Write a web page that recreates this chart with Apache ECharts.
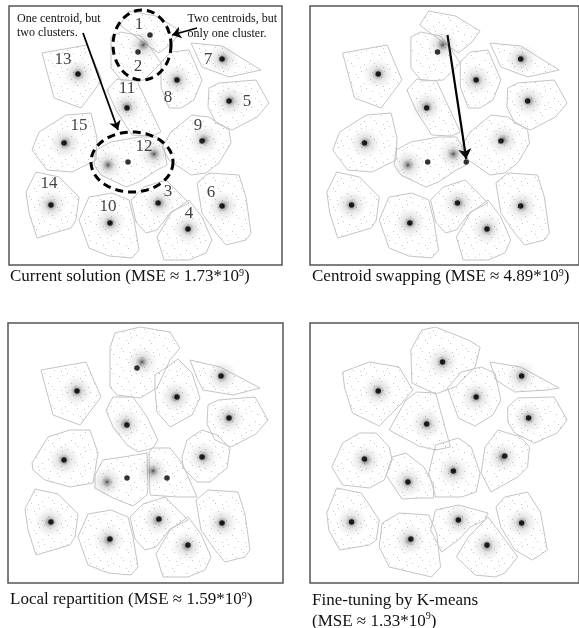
<!DOCTYPE html>
<html><head><meta charset="utf-8">
<script src="https://cdn.jsdelivr.net/npm/echarts@6/dist/echarts.min.js"></script>
<style>html,body{margin:0;padding:0;background:#fff}#c{width:579px;height:628px}</style>
</head><body><div id="c"></div>
<script>
// ---- data (panel-relative units, y downward) ----
const dataClusters = [[134,39],[69,68],[214,53],[168,74],[118,101],[221,95],[56,137],[195,134],[99,159],[145,148],[42,199],[150,197],[214,200],[101,217],[179,223]];

const centroidsP1 = [[141,29],[129,46],[69,68],[213,53],[168,74],[118,102],[220,95],[55,137],[193,135],[119,156],[42,199],[149,197],[213,200],[101,217],[179,223]];
const centroidsP2 = [[158,156],[129,46],[69,68],[213,53],[168,74],[118,102],[220,95],[55,137],[193,135],[119,156],[42,199],[149,197],[213,200],[101,217],[179,223]];
const centroidsP3 = [[129,45],[69,68],[213,53],[169,74],[119,102],[221,95],[56,137],[194,134],[119,155],[159,155],[43,199],[151,196],[214,200],[102,216],[180,222]];
const centroidsP4 = [[134,39],[69,68],[214,53],[168,74],[118,101],[221,95],[55,136],[197,133],[99,159],[145,148],[42,199],[150,197],[214,200],[102,216],[179,222]];

const clusterLabels = [["1",130,19],["2",129,61],["13",54,54],["7",199,54],["8",159,92],["11",118,83],["5",238,96],["15",70,120],["9",189,120],["12",135,141],["14",40,178],["10",99,201],["3",159,186],["6",202,187],["4",180,208]];

const cellsP12 = [
  [[111,19],[120,5],[147,10],[172,25],[163,37],[150,47],[138,39]],
  [[102,31],[112,26],[132,30],[143,44],[152,57],[135,74],[113,75],[102,62]],
  [[33,47],[78,39],[93,74],[72,102],[45,92]],
  [[182,37],[213,40],[252,64],[220,71],[193,61]],
  [[152,56],[162,46],[180,44],[193,74],[185,94],[172,102],[160,102],[152,81]],
  [[200,82],[210,77],[247,74],[260,97],[248,111],[223,124],[207,117],[199,101]],
  [[98,84],[108,73],[128,75],[152,126],[143,130],[123,129],[107,104]],
  [[57,109],[82,107],[88,132],[87,154],[63,166],[38,164],[23,144],[30,126]],
  [[87,144],[102,136],[130,131],[148,131],[155,142],[158,159],[148,164],[130,176],[117,181],[92,169],[85,159]],
  [[153,141],[162,126],[183,109],[200,111],[220,124],[222,137],[210,157],[197,167],[182,169],[160,154]],
  [[17,186],[27,166],[50,171],[70,191],[67,214],[62,222],[28,232],[20,207]],
  [[70,214],[80,191],[103,187],[120,194],[125,214],[130,244],[123,252],[100,250],[80,242]],
  [[122,194],[135,181],[157,174],[170,187],[180,197],[162,206],[148,224],[137,227],[127,216]],
  [[148,231],[162,207],[180,194],[193,211],[203,234],[197,247],[180,254],[155,254]],
  [[188,177],[200,167],[230,169],[237,191],[242,227],[237,234],[217,239],[207,227],[193,207]]
];
const cellsP3 = [
  [[102,25],[107,10],[132,4],[162,9],[172,25],[162,37],[149,65],[132,75],[109,72],[102,64]],
  [[33,47],[78,39],[93,74],[72,102],[45,92]],
  [[182,37],[212,44],[252,65],[225,72],[195,67],[189,55]],
  [[147,52],[159,44],[170,36],[184,50],[192,75],[184,92],[162,104],[149,89],[147,67]],
  [[200,82],[210,77],[247,74],[260,97],[248,111],[223,124],[207,117],[199,101]],
  [[98,87],[105,74],[125,74],[139,94],[150,117],[145,125],[130,129],[119,122],[105,104]],
  [[24,140],[40,114],[62,107],[82,107],[90,130],[85,160],[62,164],[37,157],[25,147]],
  [[174,134],[179,117],[194,107],[209,112],[222,125],[219,145],[202,159],[189,159],[175,145]],
  [[87,152],[95,137],[115,134],[139,130],[140,164],[139,172],[125,183],[105,175],[87,165]],
  [[141,130],[144,125],[162,125],[174,140],[189,174],[169,174],[142,172]],
  [[17,186],[27,166],[50,171],[70,191],[67,214],[62,222],[28,232],[20,207]],
  [[70,214],[80,191],[103,187],[120,194],[125,214],[130,244],[123,252],[100,250],[80,242]],
  [[122,194],[135,181],[157,174],[170,187],[180,197],[162,206],[148,224],[137,227],[127,216]],
  [[148,231],[162,207],[180,194],[193,211],[203,234],[197,247],[180,254],[155,254]],
  [[188,177],[200,167],[230,169],[237,191],[242,227],[237,234],[217,239],[207,227],[193,207]]
];
const cellsP4 = [
  [[102,27],[113,7],[127,4],[160,17],[172,24],[167,44],[147,64],[127,71],[103,60]],
  [[33,49],[60,39],[90,44],[104,67],[93,80],[70,103],[43,90],[35,65]],
  [[182,39],[213,44],[252,65],[240,67],[207,69],[188,57]],
  [[139,65],[153,49],[173,44],[187,50],[193,77],[185,92],[167,103],[150,95]],
  [[200,84],[210,75],[247,74],[260,97],[250,110],[227,120],[207,110],[200,99]],
  [[80,107],[97,77],[108,69],[127,70],[142,124],[127,127],[110,123]],
  [[22,144],[33,120],[50,110],[67,110],[80,124],[83,137],[75,157],[60,165],[33,162]],
  [[173,150],[177,124],[190,107],[213,114],[222,124],[220,144],[210,154],[183,169]],
  [[77,152],[83,134],[97,130],[115,144],[125,162],[125,175],[110,175],[93,176]],
  [[120,150],[127,122],[150,115],[163,124],[172,150],[168,169],[153,174],[127,174]],
  [[17,190],[27,165],[52,170],[70,197],[67,217],[60,222],[30,227],[19,207]],
  [[70,224],[73,200],[90,190],[120,192],[128,210],[132,244],[123,254],[80,244]],
  [[122,207],[127,187],[150,182],[180,190],[177,197],[162,204],[150,217],[133,229]],
  [[148,234],[160,214],[180,194],[193,211],[210,234],[197,250],[187,254],[167,252]],
  [[188,184],[197,174],[220,169],[233,189],[240,227],[225,237],[207,227],[193,204]]
];

const ellipsesP1 = [[133,39,29,35],[123,156,41,30]];
const arrowsP1 = [[[74,27],[109,124]],[[188,22],[163,29]]];
const arrowsP2 = [[[139,29],[158,153]]];

const captions = [
  "Current solution (MSE \u2248 1.73*10{s|9})",
  "Centroid swapping (MSE \u2248 4.89*10{s|9})",
  "Local repartition (MSE \u2248 1.59*10{s|9})",
  "Fine-tuning by K-means\n(MSE \u2248 1.33*10{s|9})"
];

// ---- layout ----
const boxes = [
  {left:9, top:6, width:273, height:259},
  {left:310, top:6, width:272, height:259},
  {left:8, top:323, width:275, height:260},
  {left:310, top:323, width:272, height:260}
];
const FONT = '"Liberation Serif","Times New Roman",serif';

// faint dotted texture for the cells (hand-placed dots in a small tile)
const tile = document.createElement('canvas');
tile.width = 23; tile.height = 19;
const tctx = tile.getContext('2d');
tctx.fillStyle = 'rgba(130,130,130,0.45)';
[[2,3],[13,1],[8,9],[19,7],[4,15],[16,14],[11,17],[21,12],[6,6],[15,10]].forEach(p => tctx.fillRect(p[0], p[1], 1, 1));

const chart = echarts.init(document.getElementById('c'), null, {renderer:'canvas'});
const grids = boxes.map(b => ({left:b.left, top:b.top, width:b.width, height:b.height, show:true, borderColor:'#555', borderWidth:1.5, backgroundColor:'transparent'}));
const xAxes = boxes.map((b,i) => ({gridIndex:i, type:'value', min:0, max:b.width, show:false}));
const yAxes = boxes.map((b,i) => ({gridIndex:i, type:'value', min:0, max:b.height, inverse:true, show:false}));

const blobColor = new echarts.graphic.RadialGradient(0.5,0.5,0.5,[
  {offset:0, color:'rgba(10,10,10,0.95)'},
  {offset:0.12, color:'rgba(40,40,40,0.6)'},
  {offset:0.4, color:'rgba(100,100,100,0.22)'},
  {offset:1, color:'rgba(170,170,170,0)'}
]);

const series = [];
const panelCells = [cellsP12, cellsP12, cellsP3, cellsP4];
const panelCentroids = [centroidsP1, centroidsP2, centroidsP3, centroidsP4];
for (let i=0;i<4;i++){
  const cells = panelCells[i];
  series.push({
    type:'custom', xAxisIndex:i, yAxisIndex:i, silent:true, clip:false,
    data: cells.map((c,k)=>[c[0][0], c[0][1], k]),
    renderItem:(params, api)=>{
      const poly = cells[api.value(2)];
      return {type:'polygon', shape:{points: poly.map(p=>api.coord(p))},
        style:{fill:{image:tile, repeat:'repeat'}, stroke:'#c4c4c4', lineWidth:1}};
    }
  });
  series.push({
    type:'scatter', xAxisIndex:i, yAxisIndex:i, silent:true,
    data: dataClusters, symbolSize:32, itemStyle:{color:blobColor}
  });
  series.push({
    type:'scatter', xAxisIndex:i, yAxisIndex:i, silent:true,
    data: panelCentroids[i], symbolSize:5.5, itemStyle:{color:'#000'}
  });
}
// panel 1 extras
series.push({
  type:'scatter', xAxisIndex:0, yAxisIndex:0, silent:true, symbolSize:0,
  data: clusterLabels.map(l=>[l[1], l[2], l[0]]),
  label:{show:true, position:'inside', formatter:p=>p.value[2], fontFamily:FONT, fontSize:17, color:'#111'}
});
series.push({
  type:'custom', xAxisIndex:0, yAxisIndex:0, silent:true, clip:false,
  data: ellipsesP1,
  renderItem:(params, api)=>{
    const cx=api.value(0), cy=api.value(1), rx=api.value(2), ry=api.value(3);
    const pts=[];
    for(let t=0;t<=72;t++){const a=t/72*Math.PI*2; pts.push(api.coord([cx+rx*Math.cos(a), cy+ry*Math.sin(a)]));}
    return {type:'polyline', shape:{points:pts}, style:{fill:null, stroke:'#000', lineWidth:3, lineDash:[8,5]}};
  }
});
series.push({
  type:'lines', coordinateSystem:'cartesian2d', xAxisIndex:0, yAxisIndex:0, silent:true,
  data: arrowsP1.map(a=>({coords:a})), symbol:['none','arrow'], symbolSize:9,
  lineStyle:{color:'#000', width:1.8, opacity:1}
});
series.push({
  type:'lines', coordinateSystem:'cartesian2d', xAxisIndex:1, yAxisIndex:1, silent:true,
  data: arrowsP2.map(a=>({coords:a})), symbol:['none','arrow'], symbolSize:10,
  lineStyle:{color:'#000', width:2.2, opacity:1}
});

const rich = {s:{fontSize:10, verticalAlign:'top', padding:[0,0,8,0], fontFamily:FONT, color:'#111'}};
const graphic = [
  {type:'text', left:10, top:268, style:{text:captions[0], font:'17px '+FONT, fill:'#111', rich}},
  {type:'text', left:312, top:268, style:{text:captions[1], font:'17px '+FONT, fill:'#111', rich}},
  {type:'text', left:10, top:591, style:{text:captions[2], font:'17px '+FONT, fill:'#111', rich}},
  {type:'text', left:312, top:590, style:{text:captions[3], font:'17px '+FONT, fill:'#111', rich, lineHeight:21}},
  {type:'text', left:17, top:12, style:{text:'One centroid, but\ntwo clusters.', font:'12px '+FONT, fill:'#111', lineHeight:14}},
  {type:'text', right:302, top:11, style:{text:'Two centroids, but\nonly one cluster.', font:'12px '+FONT, fill:'#111', lineHeight:15, align:'right'}}
];

chart.setOption({animation:false, grid:grids, xAxis:xAxes, yAxis:yAxes, series, graphic});
</script></body></html>
